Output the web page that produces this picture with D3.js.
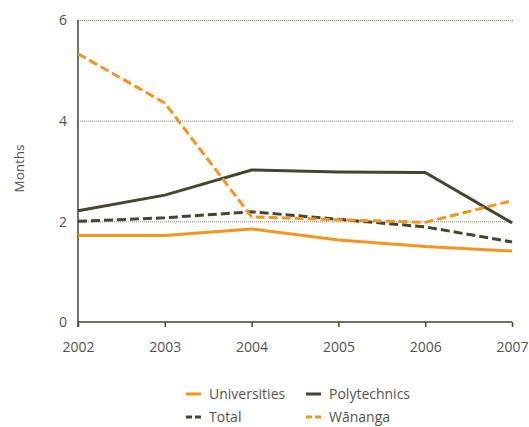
<!DOCTYPE html>
<html>
<head>
<meta charset="utf-8">
<script src="https://cdn.jsdelivr.net/npm/d3@7"></script>
<style>
  html, body { margin: 0; padding: 0; background: #fff; }
  svg { display: block; }
  text { font-family: "Open Sans", "Noto Sans", sans-serif; fill: #55534a; }
</style>
</head>
<body>
<script>
// Average months, by sector and year
const years = [2002, 2003, 2004, 2005, 2006, 2007];
const universities = [1.72, 1.72, 1.85, 1.63, 1.50, 1.41];
const polytechnics = [2.21, 2.52, 3.02, 2.98, 2.97, 1.97];
const total = [2.00, 2.07, 2.19, 2.04, 1.89, 1.59];
const wananga = [5.33, 4.35, 2.09, 2.03, 1.98, 2.41];
const yTicks = [0, 2, 4, 6];

const ORANGE = "#f7941d";
const DARK = "#46452f";

const W = 529, H = 427;
const svg = d3.select("body").append("svg").attr("width", W).attr("height", H);

const x = d3.scaleLinear().domain([2002, 2007]).range([78, 512]);
const y = d3.scaleLinear().domain([0, 6]).range([322, 20]);

// dotted gridlines
svg.append("g").selectAll("line").data(yTicks.filter(d => d > 0)).join("line")
  .attr("x1", x(2002)).attr("x2", 513)
  .attr("y1", d => y(d) + 0.5).attr("y2", d => y(d) + 0.5)
  .attr("stroke", "#8a887c").attr("stroke-width", 1).attr("stroke-dasharray", "1,1");

// y axis
const yAxis = svg.append("g").attr("transform", `translate(${x(2002)},0)`)
  .call(d3.axisLeft(y).tickValues(yTicks).tickSize(0).tickPadding(11).tickFormat(d3.format("d")));
yAxis.select(".domain").remove();
yAxis.selectAll("text").style("font-size", "14px").attr("dy", "0.35em");
svg.append("line").attr("x1", x(2002)).attr("x2", x(2002)).attr("y1", y(6)).attr("y2", y(0) + 5)
  .attr("stroke", DARK).attr("stroke-width", 1.5);

// x axis
const xAxis = svg.append("g").attr("transform", `translate(0,${y(0)})`)
  .call(d3.axisBottom(x).tickValues(years).tickSize(5).tickPadding(15).tickFormat(d3.format("d")));
xAxis.select(".domain").attr("stroke", DARK).attr("stroke-width", 1.5)
  .attr("d", `M${x(2002)},0H${x(2007)}`);
xAxis.selectAll(".tick line").attr("stroke", DARK).attr("stroke-width", 1.5);
xAxis.selectAll("text").style("font-size", "14px");

// axis title
svg.append("text").attr("transform", `translate(24,${y(3.05)}) rotate(-90)`)
  .attr("text-anchor", "middle").style("font-size", "13.5px").text("Months");

const series = [
  { name: "Universities", values: universities, color: ORANGE, dash: null },
  { name: "Polytechnics", values: polytechnics, color: DARK, dash: null },
  { name: "Total", values: total, color: DARK, dash: "9,4" },
  { name: "Wānanga", values: wananga, color: ORANGE, dash: "9,4" }
];

const line = d3.line().x((d, i) => x(years[i])).y(d => y(d));

svg.append("g").selectAll("path").data(series).join("path")
  .attr("d", d => line(d.values))
  .attr("fill", "none")
  .attr("stroke", d => d.color)
  .attr("stroke-width", 3)
  .attr("stroke-dasharray", d => d.dash);

// legend, two rows
const legendPos = [[186, 394], [306, 394], [186, 417], [306, 417]];
const lg = svg.append("g").selectAll("g").data(series).join("g")
  .attr("transform", (d, i) => `translate(${legendPos[i][0]},${legendPos[i][1]})`);
lg.append("line").attr("x1", 0).attr("x2", 15).attr("y1", 0).attr("y2", 0)
  .attr("stroke", d => d.color).attr("stroke-width", 3)
  .attr("stroke-dasharray", d => d.dash ? "6,3" : null);
lg.append("text").attr("x", 23).attr("dy", "0.35em").style("font-size", "14px").text(d => d.name);
</script>
</body>
</html>
